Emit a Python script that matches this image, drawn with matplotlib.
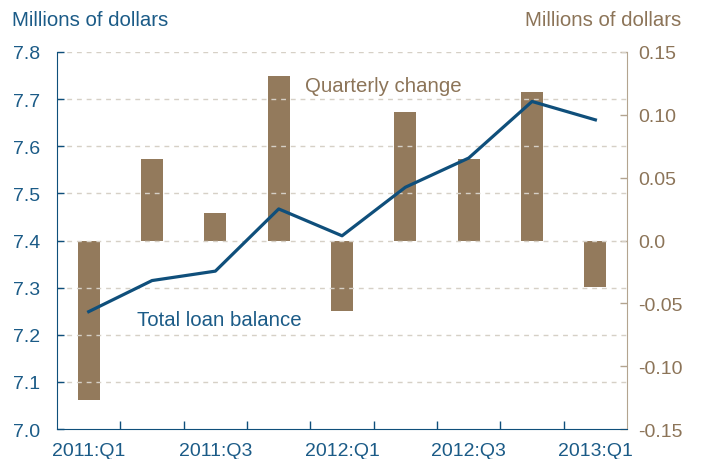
import numpy as np, matplotlib
matplotlib.use("Agg"); import matplotlib.pyplot as plt

plt.rcParams['font.family'] = ['Liberation Sans', 'DejaVu Sans']

quarters = ["2011:Q1", "2011:Q2", "2011:Q3", "2011:Q4", "2012:Q1",
            "2012:Q2", "2012:Q3", "2012:Q4", "2013:Q1"]
balance = [7.249, 7.315, 7.335, 7.467, 7.410, 7.513, 7.575, 7.695, 7.656]
change = [-0.127, 0.065, 0.022, 0.131, -0.056, 0.102, 0.065, 0.118, -0.037]

blue = "#0f4f7b"
blue_txt = "#1b5b87"
brown = "#937a5c"
brown_txt = "#8c7458"

fig = plt.figure(figsize=(7.04, 4.6), dpi=100)
ax = fig.add_axes([0.081, 0.0652, 0.8097, 0.8196])
ax2 = ax.twinx()
ax.set_zorder(ax2.get_zorder() + 1)
ax.patch.set_visible(False)

x = np.arange(len(quarters))
ax2.bar(x, change, width=0.35, color=brown, zorder=2)
ax.plot(x, balance, color=blue, lw=2.3, zorder=3)

ax.set_xlim(-0.5, len(quarters) - 0.5)
ax.set_ylim(7.0, 7.8)
ax2.set_ylim(-0.15, 0.15)

ax.set_yticks(np.arange(7.0, 7.81, 0.1))
ax.set_yticklabels([f"{v:.1f}" for v in np.arange(7.0, 7.81, 0.1)])
ax2.set_yticks(np.arange(-0.15, 0.151, 0.05))
ax2.set_yticklabels(["-0.15", "-0.10", "-0.05", "0.0", "0.05", "0.10", "0.15"])

for v in np.arange(7.1, 7.81, 0.1):
    ax.axhline(v, color="#d6d0c6", lw=1.0, ls=(0, (3.5, 3.5)), zorder=0)

ax.set_xticks(x[::2])
ax.set_xticklabels(quarters[::2])
ax.set_xticks(x[:-1] + 0.5, minor=True)
ax.tick_params(axis='x', which='major', length=0, pad=9, labelsize=14, labelcolor=blue_txt)
ax.tick_params(axis='x', which='minor', length=6, direction='in', color=blue, width=1)
ax.tick_params(axis='y', length=5, direction='in', color=blue, width=1,
               labelsize=14, labelcolor=blue_txt, pad=12)
ax2.tick_params(axis='y', length=5, direction='in', color="#b3a48f", width=1,
                labelsize=14, labelcolor=brown_txt, pad=8)

for a in (ax, ax2):
    a.spines['top'].set_visible(False)
ax.spines['left'].set_color(blue)
ax.spines['bottom'].set_color(blue)
ax.spines['right'].set_visible(False)
ax2.spines['left'].set_visible(False)
ax2.spines['bottom'].set_visible(False)
ax2.spines['right'].set_color("#b3a48f")

fig.text(12 / 704, 1 - 21 / 460, "Millions of dollars", fontsize=14.7,
         color=blue_txt, va='center', ha='left')
fig.text(681 / 704, 1 - 21 / 460, "Millions of dollars", fontsize=14.7,
         color=brown_txt, va='center', ha='right')

ax2.text(3.42, 0.123, "Quarterly change", fontsize=14.7, color=brown_txt,
         va='center', ha='left')
ax.text(0.76, 7.233, "Total loan balance", fontsize=14.7, color=blue_txt,
        va='center', ha='left')

fig.savefig("out.png", dpi=100)
